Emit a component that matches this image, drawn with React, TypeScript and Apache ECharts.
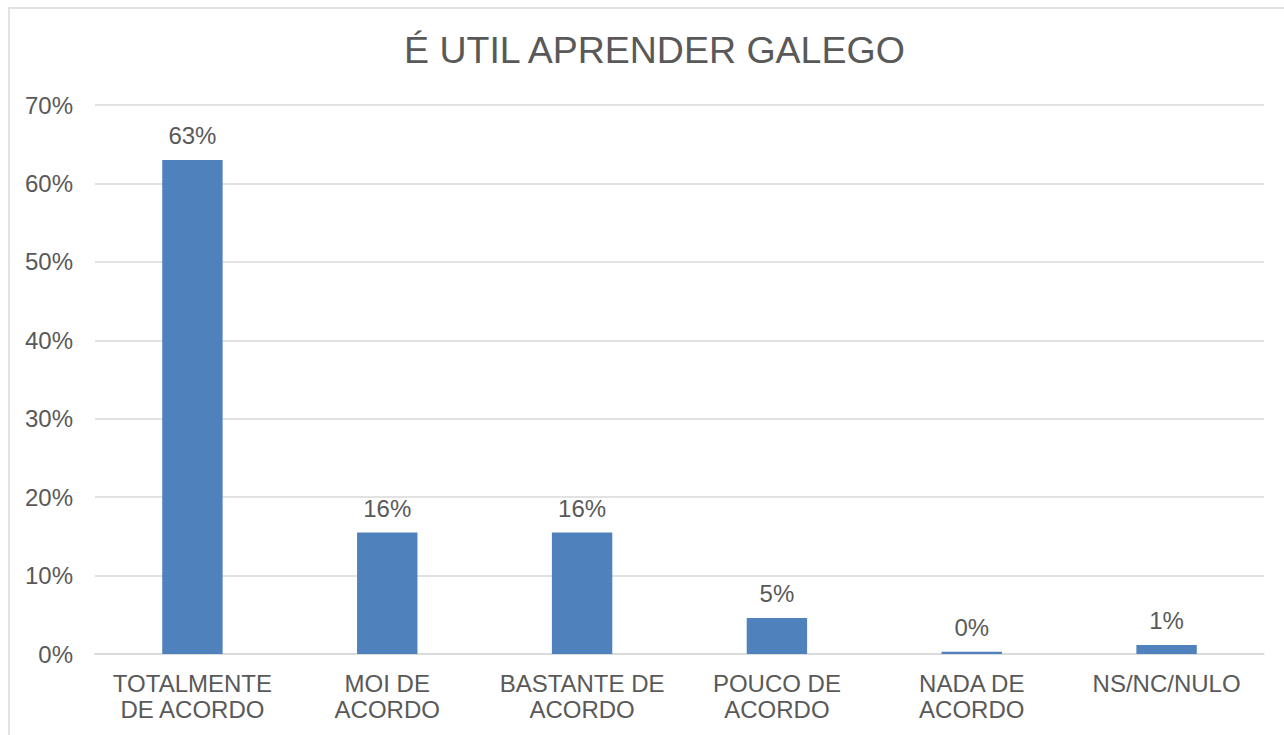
import React, { useEffect, useRef } from "react";
import * as echarts from "echarts";

const titleText = "É UTIL APRENDER GALEGO";
const categories = [
  "TOTALMENTE\nDE ACORDO",
  "MOI DE\nACORDO",
  "BASTANTE DE\nACORDO",
  "POUCO DE\nACORDO",
  "NADA DE\nACORDO",
  "NS/NC/NULO",
];
const values = [63.0, 15.5, 15.5, 4.6, 0.3, 1.15];

const FONT = "Liberation Sans, Arial, sans-serif";
const TEXT = "#595959";

export default function App() {
  const ref = useRef<HTMLDivElement>(null);
  useEffect(() => {
    document.body.style.margin = "0";
    const chart = echarts.init(ref.current!, null, { renderer: "svg" });
    chart.setOption({
      animation: false,
      backgroundColor: "#ffffff",
      title: {
        text: titleText,
        left: 399,
        top: 26,
        textStyle: { fontFamily: FONT, fontSize: 37.5, fontWeight: "normal", color: TEXT },
      },
      graphic: [
        {
          type: "rect",
          shape: { x: 9, y: 8, width: 1400, height: 900 },
          style: { fill: "none", stroke: "#d9d9d9", lineWidth: 1.5 },
          silent: true,
          z: -1,
        },
      ],
      grid: { left: 95, right: 20, top: 105, bottom: 81 },
      xAxis: {
        type: "category",
        data: categories,
        axisLine: { show: true, lineStyle: { color: "#d9d9d9", width: 1.5 } },
        axisTick: { show: false },
        axisLabel: {
          color: TEXT,
          fontFamily: FONT,
          fontSize: 24,
          lineHeight: 26,
          margin: 16,
          interval: 0,
        },
      },
      yAxis: {
        type: "value",
        min: 0,
        max: 70,
        interval: 10,
        axisLine: { show: false },
        axisTick: { show: false },
        splitLine: { lineStyle: { color: "#d9d9d9", width: 1.5 } },
        axisLabel: {
          color: TEXT,
          fontFamily: FONT,
          fontSize: 24,
          margin: 22,
          formatter: (v: number) => v + "%",
        },
      },
      series: [
        {
          type: "bar",
          data: values,
          barWidth: "31%",
          itemStyle: { color: "#4F81BD" },
          label: {
            show: true,
            position: "top",
            distance: 12,
            color: TEXT,
            fontFamily: FONT,
            fontSize: 24,
            formatter: (p: any) => Math.round(p.value) + "%",
          },
        },
      ],
    });
    return () => chart.dispose();
  }, []);
  return <div ref={ref} style={{ width: 1284, height: 735 }} />;
}
